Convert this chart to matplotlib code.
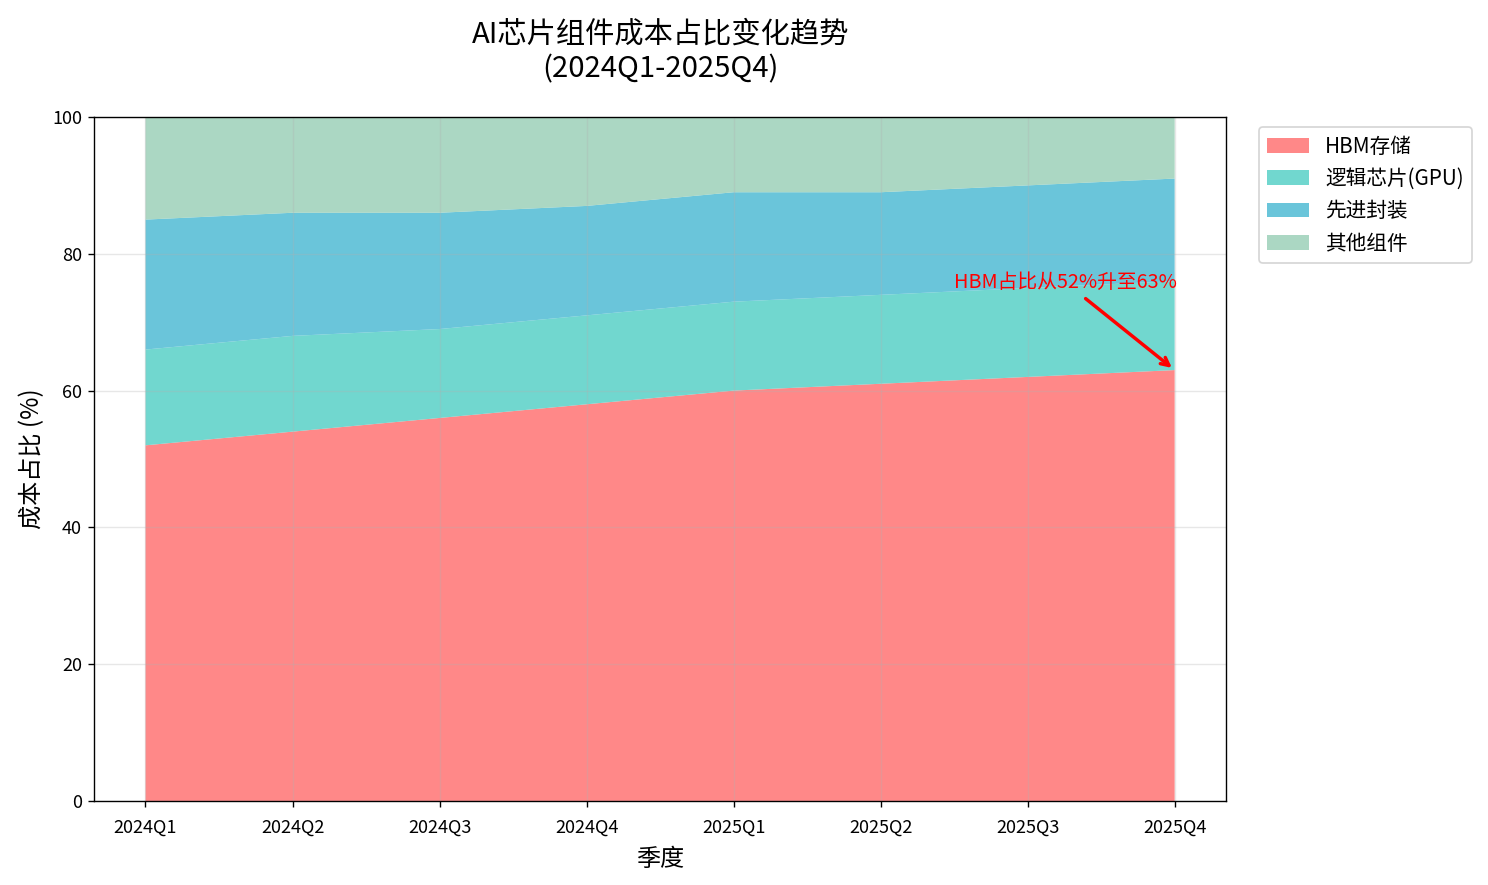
import matplotlib
matplotlib.use("Agg")
import matplotlib.pyplot as plt
import numpy as np

plt.rcParams['font.family'] = ['Noto Sans CJK SC', 'DejaVu Sans']
plt.rcParams['axes.unicode_minus'] = False

# Data
quarters = ['2024Q1', '2024Q2', '2024Q3', '2024Q4',
            '2025Q1', '2025Q2', '2025Q3', '2025Q4']
hbm = [52, 54, 56, 58, 60, 61, 62, 63]
logic = [14, 14, 13, 13, 13, 13, 13, 13]
packaging = [19, 18, 17, 16, 16, 15, 15, 15]
others = [15, 14, 14, 13, 11, 11, 10, 9]

labels = ['HBM存储', '逻辑芯片(GPU)', '先进封装', '其他组件']
colors = ['#FF6B6B', '#4ECDC4', '#45B7D1', '#96CEB4']


def main():
    fig = plt.figure(figsize=(12, 885 / 124), dpi=124)
    ax = fig.add_axes([0.0632, 0.0949, 0.7608, 0.7729])

    x = np.arange(len(quarters))
    ax.stackplot(x, hbm, logic, packaging, others,
                 labels=labels, colors=colors, alpha=0.8)

    # Annotation for the HBM share
    ax.annotate('HBM占比从52%升至63%', xy=(x[-1], hbm[-1]),
                xytext=(5.5, 75), fontsize=11.5, color='red',
                arrowprops=dict(arrowstyle='->', color='red', lw=2))

    ax.set_xticks(x)
    ax.set_xticklabels(quarters, fontsize=10.5)
    ax.set_ylim(0, 100)
    ax.tick_params(axis='y', labelsize=10.5)
    ax.tick_params(axis='x', pad=7)
    ax.grid(True, alpha=0.3)

    ax.set_title('AI芯片组件成本占比变化趋势\n(2024Q1-2025Q4)',
                 fontsize=17, pad=23, linespacing=1.2)
    ax.set_xlabel('季度', fontsize=14, labelpad=5)
    ax.set_ylabel('成本占比 (%)', fontsize=14)

    ax.legend(loc='upper left', bbox_to_anchor=(1.02, 1), fontsize=12)

    fig.savefig('out.png', dpi=124)


if __name__ == "__main__":
    main()
